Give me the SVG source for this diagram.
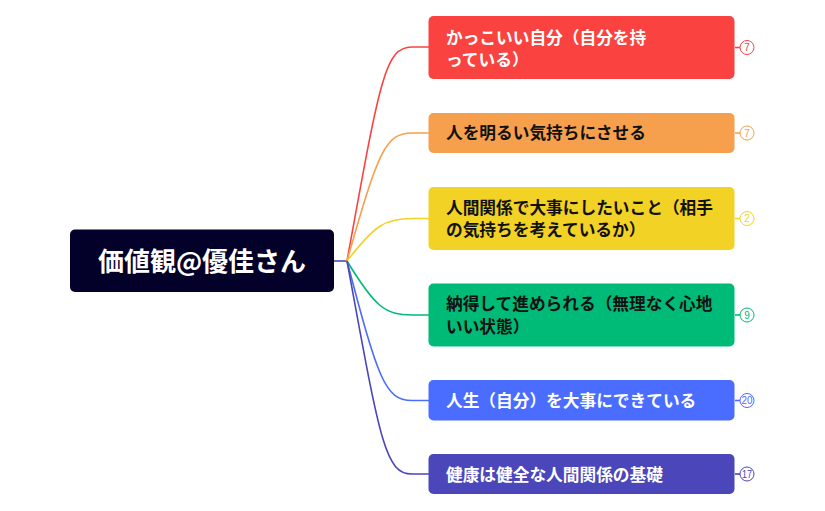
<svg xmlns="http://www.w3.org/2000/svg" width="825" height="511" viewBox="0 0 825 511">
<style>
.n{font-family:"Noto Sans CJK JP","Noto Sans",sans-serif;font-weight:700;font-size:16.7px}
.w{fill:#ffffff}
.k{fill:#111111}
.c{fill:none;stroke-width:1.6}
.b{fill:#ffffff;stroke-width:1}
.bt{font-family:"Liberation Sans","DejaVu Sans",sans-serif;font-size:10px;text-anchor:middle}
</style>
<rect width="825" height="511" fill="#ffffff"/>
<g id="connectors">
<path class="c" stroke="#4B46B9" d="M334,261 H347"/>
<path class="c" stroke="#FA4340" d="M347,261 C380,79 385,47 412,47 H429"/>
<path class="c" stroke="#F6A04E" d="M347,261 C378,152 385,133 412,133 H429"/>
<path class="c" stroke="#F2D224" d="M347,261 C375,225 385,218.5 412,218.5 H429"/>
<path class="c" stroke="#00BA78" d="M347,261 C375,307 385,315 412,315 H429"/>
<path class="c" stroke="#4A6CFF" d="M347,261 C378,379 385,400.5 412,400.5 H429"/>
<path class="c" stroke="#4B46B9" d="M347,261 C380,441 385,474 412,474 H429"/>
<path class="c" stroke="#FA4340" d="M735,47.5 H740"/>
<path class="c" stroke="#F6A04E" d="M735,133 H740"/>
<path class="c" stroke="#F2D224" d="M735,218.5 H740"/>
<path class="c" stroke="#00BA78" d="M735,315 H740"/>
<path class="c" stroke="#4A6CFF" d="M735,400.5 H740"/>
<path class="c" stroke="#4B46B9" d="M735,474 H740"/>
</g>
<g id="root">
<rect x="70" y="229.5" width="264" height="62.5" rx="5" fill="#03012A"/>
<text x="202" y="271" text-anchor="middle" font-family="Noto Sans CJK JP, Noto Sans, sans-serif" font-weight="700" font-size="26" fill="#ffffff">価値観@優佳さん</text>
</g>
<g id="node1">
<rect x="428.5" y="16" width="306" height="63" rx="5" fill="#FA4340"/>
<text class="n w" x="446" y="44">かっこいい自分（自分を持</text>
<text class="n w" x="446" y="66">っている）</text>
<circle class="b" stroke="#FA4340" cx="747" cy="47.5" r="7"/>
<text class="bt" fill="#FA4340" x="747" y="51">7</text>
</g>
<g id="node2">
<rect x="428.5" y="113" width="306" height="40" rx="5" fill="#F6A04E"/>
<text class="n k" x="446" y="139">人を明るい気持ちにさせる</text>
<circle class="b" stroke="#F6A04E" cx="747" cy="133" r="7"/>
<text class="bt" fill="#F6A04E" x="747" y="136.5">7</text>
</g>
<g id="node3">
<rect x="428.5" y="187" width="306" height="63" rx="5" fill="#F2D224"/>
<text class="n k" x="446" y="214">人間関係で大事にしたいこと（相手</text>
<text class="n k" x="446" y="236">の気持ちを考えているか）</text>
<circle class="b" stroke="#F2D224" cx="747" cy="218.5" r="7"/>
<text class="bt" fill="#F2D224" x="747" y="222">2</text>
</g>
<g id="node4">
<rect x="428.5" y="283.5" width="306" height="63" rx="5" fill="#00BA78"/>
<text class="n k" x="446" y="310">納得して進められる（無理なく心地</text>
<text class="n k" x="446" y="332.5">いい状態）</text>
<circle class="b" stroke="#00BA78" cx="747" cy="315" r="7"/>
<text class="bt" fill="#00BA78" x="747" y="318.5">9</text>
</g>
<g id="node5">
<rect x="428.5" y="380" width="306" height="40.5" rx="5" fill="#4A6CFF"/>
<text class="n w" x="446" y="407">人生（自分）を大事にできている</text>
<circle class="b" stroke="#4A6CFF" cx="747" cy="400.5" r="7"/>
<text class="bt" fill="#4A6CFF" x="747" y="404" textLength="11" lengthAdjust="spacingAndGlyphs">20</text>
</g>
<g id="node6">
<rect x="428.5" y="454" width="306" height="40" rx="5" fill="#4B46B9"/>
<text class="n w" x="446" y="481">健康は健全な人間関係の基礎</text>
<circle class="b" stroke="#4B46B9" cx="747" cy="474" r="7"/>
<text class="bt" fill="#4B46B9" x="747" y="477.5" textLength="10" lengthAdjust="spacingAndGlyphs">17</text>
</g>
</svg>
